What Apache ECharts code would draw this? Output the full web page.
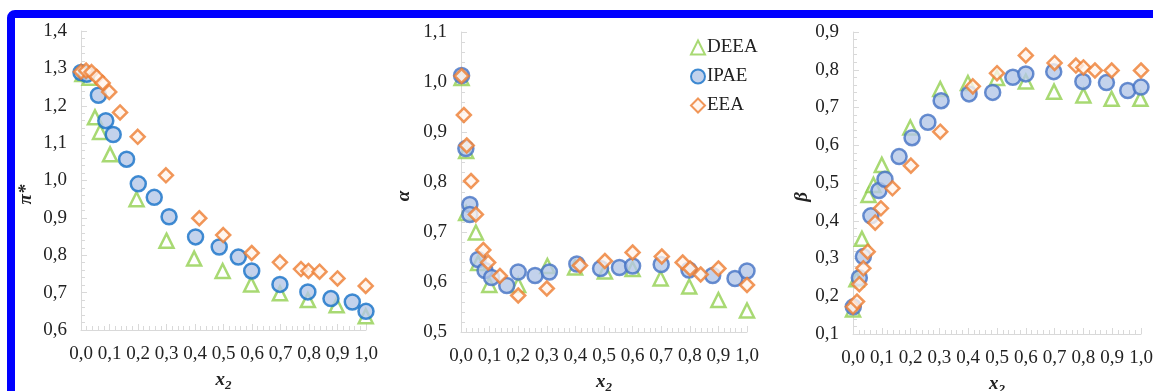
<!DOCTYPE html>
<html>
<head>
<meta charset="utf-8">
<script src="https://cdn.jsdelivr.net/npm/echarts@6/dist/echarts.min.js"></script>
<style>
  html, body { margin: 0; padding: 0; background: #fff; width: 1153px; height: 391px; overflow: hidden; }
  #frame { position: absolute; left: 7px; top: 10px; width: 1170px; height: 420px; border: 8px solid #0000ff; border-top-left-radius: 8px; box-sizing: border-box; }
  #chart { position: absolute; left: 0; top: 0; width: 1153px; height: 391px; }
</style>
</head>
<body>
<div id="frame"></div>
<div id="chart"></div>
<script>
// ---------- data ----------
const seriesNames = ['DEEA', 'IPAE', 'EEA'];
const xTickLabels = ['0,0','0,1','0,2','0,3','0,4','0,5','0,6','0,7','0,8','0,9','1,0'];

// panel 1 : pi*
const piDEEA = [[0.005,1.285],[0.03,1.275],[0.049,1.169],[0.067,1.130],[0.102,1.070],[0.195,0.950],[0.30,0.839],[0.397,0.791],[0.497,0.758],[0.597,0.722],[0.698,0.698],[0.796,0.680],[0.897,0.666],[0.999,0.637]];
const piIPAE = [[0,1.289],[0.02,1.284],[0.061,1.228],[0.087,1.160],[0.113,1.123],[0.16,1.057],[0.201,0.991],[0.257,0.955],[0.309,0.903],[0.402,0.849],[0.485,0.822],[0.552,0.795],[0.599,0.758],[0.698,0.722],[0.796,0.702],[0.877,0.684],[0.952,0.675],[1.0,0.650]];
const piEEA = [[0,1.291],[0.018,1.294],[0.037,1.29],[0.055,1.277],[0.076,1.261],[0.099,1.237],[0.137,1.182],[0.199,1.117],[0.298,1.014],[0.415,0.899],[0.499,0.854],[0.599,0.806],[0.698,0.781],[0.772,0.763],[0.798,0.758],[0.837,0.756],[0.9,0.738],[0.999,0.718]];

// panel 2 : alpha
const alphaDEEA = [[0.002,1.008],[0.018,0.862],[0.018,0.738],[0.052,0.699],[0.06,0.638],[0.099,0.594],[0.2,0.594],[0.302,0.632],[0.399,0.629],[0.503,0.621],[0.6,0.626],[0.698,0.607],[0.798,0.591],[0.9,0.564],[1.0,0.543]];
const alphaIPAE = [[0.002,1.013],[0.017,0.867],[0.031,0.755],[0.031,0.735],[0.06,0.645],[0.084,0.623],[0.107,0.609],[0.16,0.593],[0.2,0.62],[0.259,0.613],[0.309,0.62],[0.405,0.636],[0.488,0.627],[0.554,0.629],[0.6,0.632],[0.7,0.635],[0.797,0.624],[0.88,0.613],[0.958,0.607],[1.0,0.622]];
const alphaEEA = [[0.002,1.012],[0.01,0.934],[0.02,0.873],[0.035,0.802],[0.052,0.735],[0.078,0.664],[0.095,0.639],[0.136,0.612],[0.2,0.573],[0.3,0.587],[0.416,0.633],[0.503,0.642],[0.6,0.659],[0.702,0.651],[0.775,0.639],[0.801,0.627],[0.838,0.615],[0.9,0.627],[1.0,0.594]];

// panel 3 : beta
const betaDEEA = [[0,0.165],[0.012,0.245],[0.031,0.352],[0.054,0.468],[0.071,0.495],[0.1,0.548],[0.199,0.647],[0.303,0.749],[0.399,0.765],[0.5,0.778],[0.6,0.769],[0.698,0.742],[0.8,0.732],[0.898,0.723],[0.998,0.723]];
const betaIPAE = [[0.001,0.172],[0.022,0.249],[0.036,0.305],[0.062,0.413],[0.09,0.48],[0.111,0.51],[0.16,0.57],[0.205,0.62],[0.26,0.661],[0.306,0.718],[0.403,0.736],[0.485,0.74],[0.555,0.78],[0.6,0.789],[0.697,0.795],[0.798,0.769],[0.88,0.766],[0.954,0.745],[1.0,0.754]];
const betaEEA = [[0,0.172],[0.014,0.186],[0.022,0.232],[0.036,0.274],[0.051,0.318],[0.077,0.395],[0.097,0.433],[0.137,0.486],[0.201,0.546],[0.303,0.636],[0.416,0.756],[0.5,0.791],[0.6,0.838],[0.7,0.818],[0.774,0.811],[0.8,0.806],[0.84,0.798],[0.898,0.798],[1.0,0.798]];

const yNames = ['π*', 'α', 'β'];
const yMins = [0.6, 0.5, 0.1];
const yMaxs = [1.4, 1.1, 0.9];

// ---------- styling / layout ----------
const FONT = '"Liberation Serif", "Times New Roman", serif';
const grids = [
  { left: 81, top: 31, width: 285, height: 299, outerBoundsMode: 'none', containLabel: false },
  { left: 461, top: 32, width: 286, height: 300, outerBoundsMode: 'none', containLabel: false },
  { left: 853, top: 32, width: 288, height: 302, outerBoundsMode: 'none', containLabel: false }
];
const yNameGaps = [45, 47, 40];
const circleStroke = ['#1470c8', '#4472c4', '#4472c4'];

const styles = [
  { symbol: 'triangle', symbolSize: 14, itemStyle: { color: '#ffffff', borderColor: '#92d050', borderWidth: 2.5 } },
  { symbol: 'circle', symbolSize: 15, itemStyle: { color: '#b4c7e7', borderColor: '#4472c4', borderWidth: 2.5 } },
  { symbol: 'diamond', symbolSize: 14, itemStyle: { color: '#fff4ec', borderColor: '#ed7d31', borderWidth: 2.5 } }
];

const panels = [
  [piDEEA, piIPAE, piEEA],
  [alphaDEEA, alphaIPAE, alphaEEA],
  [betaDEEA, betaIPAE, betaEEA]
];

const xAxes = grids.map((g, i) => ({
  type: 'value', gridIndex: i, min: 0, max: 1, interval: 0.1,
  name: '{x|x}{s|2}', nameLocation: 'middle', nameGap: 39,
  nameTextStyle: { rich: {
    x: { fontFamily: FONT, fontSize: 19, fontWeight: 'bold', fontStyle: 'italic', color: '#222' },
    s: { fontFamily: FONT, fontSize: 13, fontWeight: 'bold', fontStyle: 'italic', color: '#222', verticalAlign: 'bottom', padding: [10, 0, 0, 0] }
  } },
  axisLine: { show: true, onZero: false, lineStyle: { color: '#d9d9d9', width: 1 } },
  axisTick: { show: true, inside: true, length: 6, lineStyle: { color: '#d9d9d9' } },
  minorTick: { show: true, splitNumber: 5, length: 4, lineStyle: { color: '#d9d9d9' } },
  splitLine: { show: false },
  axisLabel: { margin: 15, fontFamily: FONT, fontSize: 19, color: '#222',
    formatter: v => xTickLabels[Math.round(v * 10)] }
}));

const yAxes = grids.map((g, i) => ({
  type: 'value', gridIndex: i, min: yMins[i], max: yMaxs[i], interval: 0.1,
  name: yNames[i], nameLocation: 'middle', nameGap: yNameGaps[i], nameRotate: 90,
  nameTextStyle: { fontFamily: FONT, fontSize: 19, fontWeight: 'bold', fontStyle: 'italic', color: '#222', padding: [0, 28, 0, 0] },
  axisLine: { show: true, onZero: false, lineStyle: { color: '#d9d9d9', width: 1 } },
  axisTick: { show: true, inside: true, length: 6, lineStyle: { color: '#d9d9d9' } },
  minorTick: { show: true, splitNumber: 5, length: 4, lineStyle: { color: '#d9d9d9' } },
  splitLine: { show: false },
  axisLabel: { margin: 14, fontFamily: FONT, fontSize: 19, color: '#222',
    formatter: v => v.toFixed(1).replace('.', ',') }
}));

const series = [];
panels.forEach((sets, p) => {
  sets.forEach((data, s) => {
    const st = styles[s];
    const itemStyle = Object.assign({}, st.itemStyle);
    if (s === 1) itemStyle.borderColor = circleStroke[p];
    series.push({
      type: 'scatter', name: seriesNames[s], xAxisIndex: p, yAxisIndex: p,
      data: data, symbol: st.symbol, symbolSize: st.symbolSize, itemStyle: itemStyle,
      z: 2 + s, emphasis: { disabled: true }, animation: false
    });
  });
});

const chart = echarts.init(document.getElementById('chart'), null, { renderer: 'canvas' });
chart.setOption({
  backgroundColor: 'transparent',
  animation: false,
  grid: grids,
  xAxis: xAxes,
  yAxis: yAxes,
  legend: {
    data: seriesNames, orient: 'vertical', left: 685, top: 33,
    itemWidth: 14, itemHeight: 14, itemGap: 10,
    textStyle: { fontFamily: FONT, fontSize: 19, color: '#222', padding: [0, 0, 0, -3] },
    selectedMode: false
  },
  series: series
});
</script>
</body>
</html>
